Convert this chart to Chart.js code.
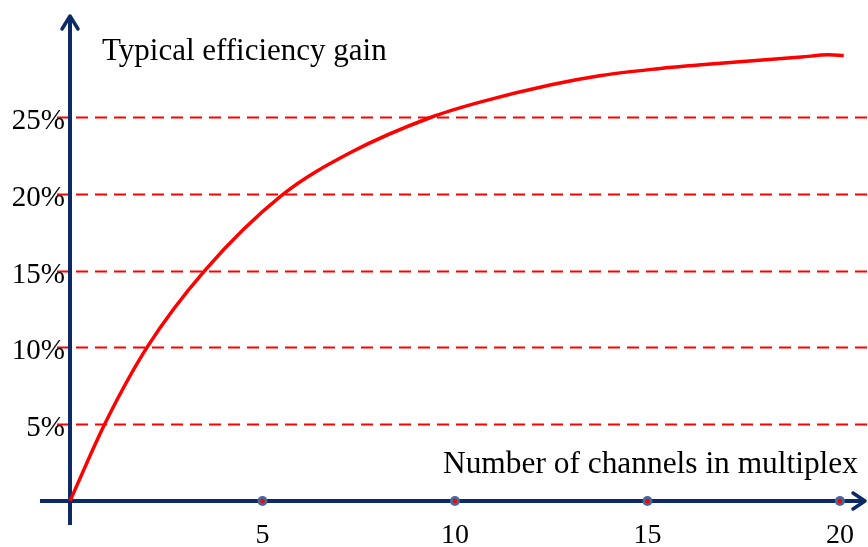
<!DOCTYPE html>
<html>
<head>
<meta charset="utf-8">
<script src="https://cdn.jsdelivr.net/npm/chart.js@4.4.1/dist/chart.umd.min.js"></script>
<style>
  html, body { margin: 0; padding: 0; background: #fff; }
  #wrap { width: 868px; height: 547px; }
</style>
</head>
<body>
<div id="wrap"><canvas id="gainChart" width="868" height="547"></canvas></div>
<script>
// values
var channels = [0, 0.9, 2.0, 3.5, 5.5, 7.3, 9.4, 10.7, 12.5, 13.8, 15.1, 16.4, 19.0, 19.7, 20.1];
var gain = [0, 5, 10, 15, 19.9, 22.7, 25, 26, 27.1, 27.7, 28.1, 28.4, 28.9, 29.05, 29.0];
var xTicks = [5, 10, 15, 20];
var yTicks = [5, 10, 15, 20, 25];

var navy = '#0b2a66';
var red = '#ff0000';
var serif = '"Liberation Serif", "Times New Roman", serif';

var axesPlugin = {
    id: 'axesPlugin',
    beforeDatasetsDraw: function (chart) {
        var c = chart.ctx;
        var xs = chart.scales.x, ys = chart.scales.y;
        var x0 = xs.getPixelForValue(0), y0 = ys.getPixelForValue(0);
        c.save();
        // dashed grid lines
        c.strokeStyle = red;
        c.lineWidth = 2;
        c.setLineDash([12, 7]);
        yTicks.forEach(function (v) {
            var y = Math.round(ys.getPixelForValue(v)) + 0.5;
            c.beginPath();
            c.moveTo(57, y);
            c.lineTo(chart.width, y);
            c.stroke();
        });
        c.setLineDash([]);
        // axes
        c.strokeStyle = navy;
        c.lineWidth = 4;
        c.beginPath();
        c.moveTo(x0, 525);
        c.lineTo(x0, 17);
        c.moveTo(40, y0);
        c.lineTo(865, y0);
        c.stroke();
        // arrow heads
        c.lineWidth = 3.5;
        c.lineCap = 'round';
        c.lineJoin = 'round';
        c.beginPath();
        c.moveTo(x0 - 8, 29);
        c.lineTo(x0, 16);
        c.lineTo(x0 + 8, 29);
        c.moveTo(853, y0 - 8);
        c.lineTo(865, y0);
        c.lineTo(853, y0 + 8);
        c.stroke();
        c.restore();
    },
    afterDatasetsDraw: function (chart) {
        var c = chart.ctx;
        var xs = chart.scales.x, ys = chart.scales.y;
        var y0 = ys.getPixelForValue(0);
        c.save();
        // tick dots on x axis
        xTicks.forEach(function (v) {
            var x = xs.getPixelForValue(v);
            c.beginPath();
            c.arc(x, y0, 5, 0, Math.PI * 2);
            c.fillStyle = '#46689a';
            c.fill();
            c.beginPath();
            c.arc(x, y0, 2.2, 0, Math.PI * 2);
            c.fillStyle = red;
            c.fill();
        });
        c.fillStyle = '#000';
        // x labels
        c.font = '28px ' + serif;
        c.textAlign = 'center';
        c.textBaseline = 'alphabetic';
        xTicks.forEach(function (v) {
            c.fillText(String(v), xs.getPixelForValue(v), 543);
        });
        // y labels
        c.font = '29px ' + serif;
        c.textAlign = 'right';
        yTicks.forEach(function (v) {
            c.fillText(v + '%', 65, ys.getPixelForValue(v) + 12);
        });
        // axis titles
        c.font = '31px ' + serif;
        c.textAlign = 'left';
        c.fillText('Typical efficiency gain', 102, 60);
        c.font = '31.4px ' + serif;
        c.fillText('Number of channels in multiplex', 443, 473);
        c.restore();
    }
};

var ctx = document.getElementById('gainChart').getContext('2d');
var gainChart = new Chart(ctx, {
    type: 'line',
    data: {
        labels: channels,
        datasets: [{
            data: channels.map(function (x, i) { return { x: x, y: gain[i] }; }),
            borderColor: red,
            borderWidth: 3.5,
            pointRadius: 0,
            fill: false,
            cubicInterpolationMode: 'monotone',
            clip: false
        }]
    },
    options: {
        responsive: false,
        animation: false,
        layout: { padding: { left: 70, right: 0, top: 15, bottom: 46 } },
        plugins: { legend: { display: false }, tooltip: { enabled: false } },
        scales: {
            x: { type: 'linear', min: 0, max: 20.73, display: false },
            y: { min: 0, max: 31.64, display: false }
        }
    },
    plugins: [axesPlugin]
});
</script>
</body>
</html>
